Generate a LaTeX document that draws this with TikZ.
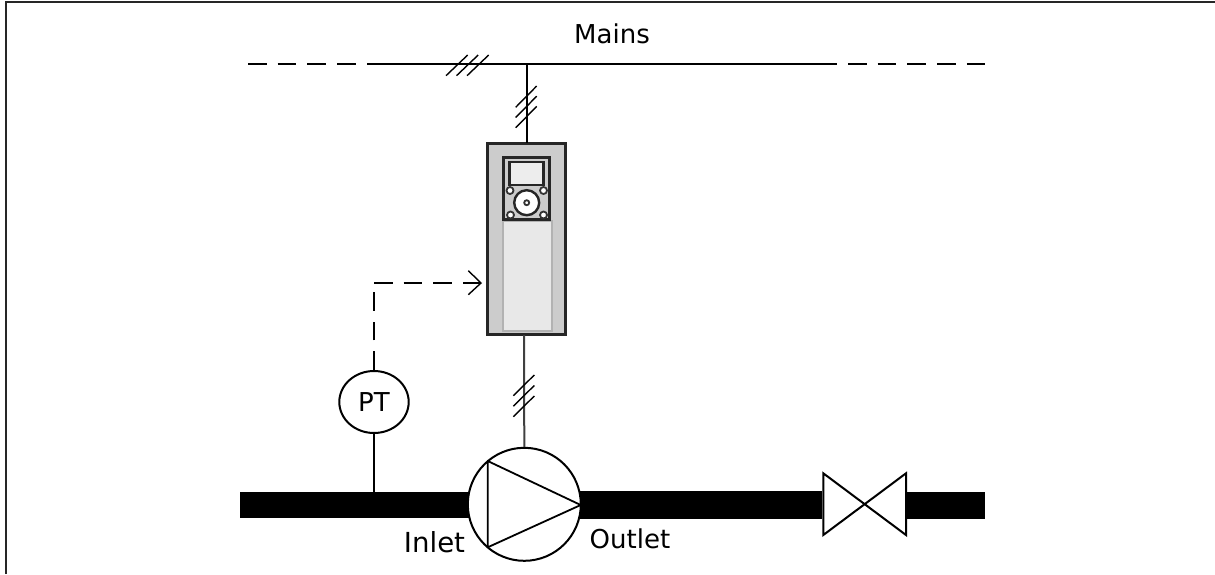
\documentclass[tikz,border=0pt]{standalone}
\usepackage{fontspec}
\setmainfont{DejaVu Sans}
\usetikzlibrary{shapes.geometric}
\tikzset{
    wire/.style={line width=1pt, black},
    tick/.style={line width=0.7pt, black},
    sigline/.style={line width=0.7pt, black, dash pattern=on 9.3pt off 5.55pt},
    pipe/.style={fill=black, draw=none},
    symbol/.style={line width=1pt, draw=black, fill=white},
    label/.style={font=\fontsize{13}{15}\selectfont, inner sep=0pt},
    smallhole/.style={circle, draw=black!80, line width=0.9pt, fill=white, minimum size=3.5pt, inner sep=0pt}
}

\begin{document}
\begin{tikzpicture}[x=0.5pt, y=-0.5pt]
    \useasboundingbox (0,0) rectangle (1215,574);
    \coordinate (frameA) at (5.5,574); \coordinate (frameB) at (5.5,1.5); \coordinate (frameC) at (1215,1.5);
    \draw[line width=1pt, black!85] (frameA) -- (frameB) -- (frameC);
    % Mains
    \coordinate (mainsA) at (248,64); \coordinate (mainsB) at (367,64); \coordinate (mainsC) at (836.7,64); \coordinate (mainsD) at (848,64); \coordinate (mainsE) at (985,64);
    \coordinate (tee) at (527,64);
    \draw[sigline, line width=0.8pt] (mainsA) -- (356,64);
    \draw[wire] (mainsB) -- (mainsC);
    \draw[sigline, line width=0.8pt] (mainsD) -- (mainsE);
    \node[label] (mains) at (612,34) {Mains};
    \foreach \dx in {0,10.5,21} \draw[tick] (446+\dx,75.7) -- (467.7+\dx,55);
    % Drive
    \node[draw=black!85, fill=black!20, line width=1.5pt, minimum width=39pt, minimum height=95.5pt, inner sep=0pt] (drive) at (526.5,239) {};
    \node[draw=black!30, fill=black!9, line width=1pt, minimum width=24.5pt, minimum height=55pt, inner sep=0pt] (panel) at (527,275.5) {};
    \node[draw=black!85, fill=black!20, line width=1.5pt, minimum width=23pt, minimum height=31pt, inner sep=0pt] (keypad) at (526.5,188.5) {};
    \node[draw=black!85, fill=black!7, line width=1.2pt, minimum width=17pt, minimum height=11.3pt, inner sep=0pt] (screen) at (526.5,173.5) {};
    \node[circle, draw=black!85, fill=white, line width=1.2pt, minimum size=12.5pt, inner sep=0pt] (dial) at (526.7,202.7) {};
    \node[smallhole, minimum size=2.5pt] (hub) at (dial) {};
    \node[smallhole] (holeA) at (510,190.5) {};
    \node[smallhole] (holeB) at (543.5,190.5) {};
    \node[smallhole] (holeC) at (510.5,215) {};
    \node[smallhole] (holeD) at (543.5,215) {};
    \draw[wire] (tee) -- (527,143);
    \foreach \dy in {0,10.2,20.4} \draw[tick] (515.7,107.3+\dy) -- (536.7,86+\dy);
    % Pump
    \fill[pipe] (240,492) rectangle (490,518);
    \fill[pipe] (560,491) rectangle (822,518.5);
    \node[circle, symbol, minimum size=56.5pt, inner sep=0pt] (pump) at (524.3,504.3) {};
    \coordinate (triA) at (487.7,461); \coordinate (triB) at (487.7,547.3); \coordinate (triC) at (580.7,505);
    \draw[line width=0.9pt, line join=round] (triA) -- (triB) -- (triC) -- cycle;
    \draw[wire, black!75] (524,335) -- (pump.north);
    \foreach \dy in {0,10.5,21} \draw[tick] (513.3,395.7+\dy) -- (534.3,375+\dy);
    % Valve
    \fill[pipe] (906,491.5) rectangle (985,518.5);
    \coordinate (valveA) at (823.3,473.3); \coordinate (valveB) at (823.3,535); \coordinate (valveC) at (906,473.3); \coordinate (valveD) at (906,535);
    \draw[symbol] (valveA) -- (valveB) -- (valveC) -- (valveD) -- cycle;
    % Sensor
    \node[ellipse, symbol, minimum width=34.7pt, minimum height=31pt, inner sep=0pt, font=\fontsize{13}{15}\selectfont] (pt) at (374,402) {PT};
    \coordinate (tap) at (374,492); \coordinate (bend) at (374,283); \coordinate (inlet) at (481,283);
    \draw[wire, line width=0.8pt] (pt) -- (tap);
    \draw[sigline] (pt.north) -- (bend);
    \draw[sigline] (bend) -- (inlet);
    \draw[line width=0.7pt] (468.3,270.7) -- (inlet) -- (468.3,294.7);
    \node[label, font=\fontsize{13.8}{15}\selectfont] (inletlabel) at (434.5,542) {Inlet};
    \node[label] (outletlabel) at (630,539) {Outlet};
\end{tikzpicture}
\end{document}
